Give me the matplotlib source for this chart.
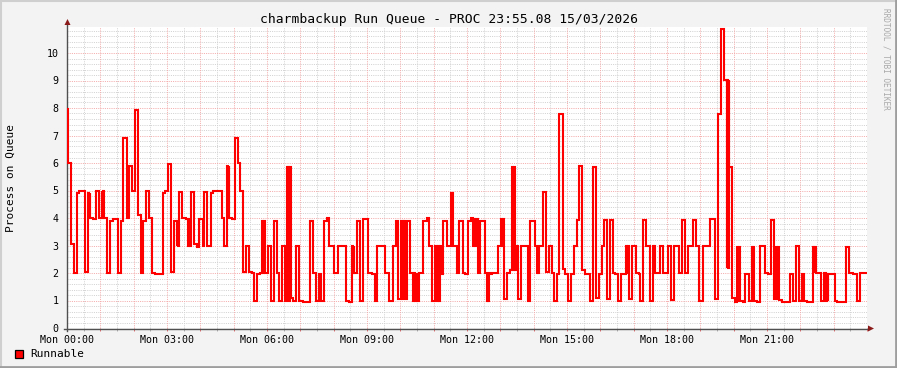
import matplotlib
matplotlib.use("Agg")
import matplotlib.pyplot as plt
from matplotlib.lines import Line2D
from matplotlib.patches import Rectangle, Polygon

# ---------------- data ----------------
title = "charmbackup Run Queue - PROC 23:55.08 15/03/2026"
y_label = "Process on Queue"
legend_label = "Runnable"
watermark = "RRDTOOL / TOBI OETIKER"
x_tick_hours = [0, 3, 6, 9, 12, 15, 18, 21]
x_tick_labels = ["Mon 00:00", "Mon 03:00", "Mon 06:00", "Mon 09:00",
                 "Mon 12:00", "Mon 15:00", "Mon 18:00", "Mon 21:00"]
y_ticks = [0, 1, 2, 3, 4, 5, 6, 7, 8, 9, 10]

# step start times (hours since Mon 00:00) and run-queue values
t_hours = [
    0.00, 0.03, 0.13, 0.22, 0.29, 0.35, 0.54, 0.63, 0.655, 0.675, 0.695, 0.78, 0.86, 0.96,
    1.04, 1.06, 1.08, 1.10, 1.19, 1.29, 1.39, 1.54, 1.62, 1.69, 1.79, 1.815, 1.84, 1.865,
    1.94, 2.04, 2.14, 2.21, 2.29, 2.37, 2.47, 2.56, 2.64, 2.89, 2.95, 3.02, 3.12, 3.22,
    3.29, 3.31, 3.33, 3.36, 3.46, 3.56, 3.64, 3.665, 3.69, 3.71, 3.81, 3.89, 3.97, 4.07,
    4.11, 4.19, 4.31, 4.37, 4.64, 4.72, 4.81, 4.835, 4.855, 4.87, 4.94, 5.04, 5.14, 5.20,
    5.29, 5.37, 5.47, 5.54, 5.61, 5.69, 5.79, 5.86, 5.885, 5.91, 5.94, 6.04, 6.13, 6.20,
    6.30, 6.37, 6.44, 6.54, 6.59, 6.615, 6.64, 6.665, 6.69, 6.71, 6.77, 6.88, 6.97, 7.07,
    7.29, 7.39, 7.48, 7.55, 7.63, 7.72, 7.79, 7.87, 8.00, 8.13, 8.38, 8.47, 8.55, 8.575,
    8.60, 8.62, 8.69, 8.78, 8.89, 9.04, 9.14, 9.23, 9.30, 9.54, 9.67, 9.77, 9.87, 9.94,
    10.02, 10.045, 10.07, 10.095, 10.12, 10.14, 10.19, 10.29, 10.39, 10.415, 10.44, 10.46,
    10.49, 10.57, 10.69, 10.79, 10.87, 10.94, 11.04, 11.11, 11.135, 11.16, 11.185, 11.21,
    11.29, 11.39, 11.51, 11.535, 11.56, 11.585, 11.70, 11.77, 11.87, 11.94, 12.02, 12.12,
    12.19, 12.215, 12.24, 12.265, 12.32, 12.39, 12.54, 12.59, 12.615, 12.64, 12.665, 12.69,
    12.76, 12.94, 13.02, 13.045, 13.07, 13.095, 13.12, 13.20, 13.29, 13.36, 13.385, 13.41,
    13.435, 13.46, 13.54, 13.62, 13.82, 13.89, 14.04, 14.09, 14.115, 14.14, 14.165, 14.27,
    14.37, 14.47, 14.55, 14.61, 14.69, 14.77, 14.87, 14.95, 15.04, 15.11, 15.22, 15.29,
    15.36, 15.44, 15.53, 15.69, 15.77, 15.87, 15.96, 16.05, 16.10, 16.20, 16.28, 16.37,
    16.44, 16.54, 16.62, 16.77, 16.795, 16.82, 16.87, 16.96, 17.06, 17.15, 17.20, 17.28,
    17.38, 17.47, 17.50, 17.57, 17.595, 17.62, 17.64, 17.79, 17.87, 18.03, 18.12, 18.21,
    18.37, 18.45, 18.54, 18.64, 18.78, 18.86, 18.95, 19.07, 19.29, 19.43, 19.53, 19.63,
    19.72, 19.79, 19.81, 19.83, 19.85, 19.87, 19.96, 20.03, 20.10, 20.125, 20.15, 20.175,
    20.27, 20.35, 20.45, 20.54, 20.565, 20.59, 20.62, 20.69, 20.79, 20.94, 21.04, 21.11,
    21.20, 21.27, 21.295, 21.32, 21.345, 21.37, 21.44, 21.69, 21.78, 21.87, 21.97, 22.04,
    22.10, 22.20, 22.37, 22.395, 22.42, 22.47, 22.62, 22.70, 22.76, 22.79, 22.815, 22.84,
    23.04, 23.11, 23.37, 23.47, 23.58, 23.71, 23.80,
]
runnable = [
    7.95, 6.0, 3.05, 2.0, 4.9, 4.97, 2.03, 4.9, 4.0, 4.9, 4.0, 3.95, 5.0, 4.0,
    5.0, 4.0, 5.0, 4.0, 2.0, 3.9, 3.96, 2.0, 3.9, 6.9, 4.0, 5.9, 4.0, 5.9,
    5.0, 7.93, 4.1, 2.0, 3.9, 5.0, 4.0, 2.0, 1.97, 4.9, 5.0, 5.95, 2.05, 3.9,
    3.0, 3.9, 3.0, 4.95, 4.0, 3.95, 3.0, 3.95, 3.0, 4.95, 3.05, 2.95, 3.95, 3.0,
    4.95, 3.0, 4.9, 5.0, 4.0, 3.0, 5.9, 4.0, 5.9, 4.0, 3.95, 6.9, 6.0, 5.0,
    2.05, 3.0, 2.05, 2.0, 1.0, 1.95, 2.0, 3.9, 2.0, 3.9, 2.0, 3.0, 1.0, 3.9,
    2.0, 1.0, 3.0, 1.0, 5.85, 1.0, 5.85, 1.0, 5.85, 1.1, 1.0, 3.0, 1.0, 0.95,
    3.9, 2.0, 1.0, 1.95, 1.0, 3.9, 4.0, 3.0, 2.0, 3.0, 1.0, 0.95, 3.0, 2.0,
    3.0, 2.0, 3.9, 1.0, 3.95, 2.0, 1.97, 1.0, 3.0, 2.0, 1.0, 3.0, 3.9, 1.05,
    3.9, 1.05, 3.9, 1.05, 3.9, 1.05, 3.9, 2.0, 1.0, 2.0, 1.0, 1.95,
    1.0, 2.0, 3.9, 4.0, 3.0, 1.0, 3.0, 1.0, 3.0, 1.0, 3.0, 1.95,
    3.9, 3.0, 4.92, 3.0, 4.92, 3.0, 2.0, 3.9, 2.0, 1.98, 3.9, 4.0,
    3.0, 3.95, 3.0, 3.95, 2.0, 3.9, 2.0, 1.0, 2.0, 1.0, 2.0, 1.97,
    2.0, 3.0, 3.95, 3.0, 3.95, 3.0, 1.05, 2.0, 2.1, 5.87, 2.1, 5.87,
    2.1, 3.0, 1.05, 3.0, 1.0, 3.9, 3.0, 2.0, 3.0, 2.0, 3.0, 4.93,
    2.05, 3.0, 2.0, 1.0, 1.96, 7.8, 2.15, 1.95, 1.0, 1.96, 3.0, 3.93,
    5.9, 2.1, 1.96, 1.0, 5.85, 1.1, 1.97, 3.0, 3.93, 1.05, 3.93, 2.0,
    1.97, 1.0, 1.97, 3.0, 2.0, 3.0, 1.05, 2.97, 2.0, 1.97, 1.0, 3.92,
    3.0, 2.98, 1.0, 3.0, 2.0, 3.0, 2.0, 3.0, 2.0, 3.0, 1.03, 3.0,
    2.0, 3.92, 2.0, 3.0, 3.93, 3.0, 1.0, 3.0, 3.95, 1.05, 7.78, 10.87,
    9.02, 2.17, 9.02, 2.17, 9.02, 5.87, 1.1, 0.96, 2.95, 1.0, 2.95, 1.0,
    0.96, 1.97, 1.0, 2.95, 1.0, 2.95, 1.0, 0.96, 3.0, 2.0, 1.97, 3.93,
    1.05, 2.95, 1.05, 2.95, 1.05, 1.03, 0.96, 1.97, 1.0, 2.97, 1.0, 1.97,
    1.0, 0.96, 2.95, 2.0, 2.95, 2.0, 1.0, 2.0, 1.0, 1.97, 1.0, 1.97,
    1.0, 0.96, 2.95, 2.0, 1.97, 1.0, 2.0,
]
t_end = 23.97

# ---------------- figure ----------------
W, H = 897, 368
FONT = "DejaVu Sans Mono"
plt.rcParams["font.family"] = [FONT, "DejaVu Sans"]

fig = plt.figure(figsize=(W / 100, H / 100), dpi=100, facecolor="#F3F3F3")

def px(x, y):
    return x / W, 1 - y / H

# outer frame (RRD shade)
fig.add_artist(Line2D([0, 1], [1 - 1 / H, 1 - 1 / H], color="#CFCFCF", lw=1.5))
fig.add_artist(Line2D([1 / W, 1 / W], [0, 1], color="#CFCFCF", lw=1.5))
fig.add_artist(Line2D([0, 1], [1.2 / H, 1.2 / H], color="#9E9E9E", lw=2))
fig.add_artist(Line2D([1 - 1.2 / W, 1 - 1.2 / W], [0, 1], color="#9E9E9E", lw=2))

top_px = 26.5
ax = fig.add_axes([67 / W, 1 - 328 / H, 800 / W, (328 - top_px) / H])
ax.set_facecolor("white")
ymax = 10.0 + (328 - 275 - top_px) / 27.5
ax.set_xlim(0, 24)
ax.set_ylim(0, ymax)
for s in ax.spines.values():
    s.set_visible(False)

dot = (0, (1, 1.2))
minor_col = "#D2D2D2"
major_col = "#F4ABAB"
gkw = dict(lw=0.72, ls=dot)
# minor grid
for i in range(1, 48, 2):
    ax.axvline(i * 0.5, color=minor_col, zorder=1, **gkw)
k = 1
while k * 0.2 < ymax:
    if k % 5 != 0:
        ax.axhline(k * 0.2, color=minor_col, zorder=1, **gkw)
    k += 1
# major grid
for h in range(1, 24):
    ax.axvline(h, color=major_col, zorder=1.5, **gkw)
for v in y_ticks[1:]:
    ax.axhline(v, color=major_col, zorder=1.5, **gkw)

# axes lines (drawn under the data line)
axis_col = "#505050"
arrow_col = "#8B1A1A"
ax.plot([-3 / 800, 801 / 800], [-0.5 / 301.5, -0.5 / 301.5], transform=ax.transAxes,
        color=axis_col, lw=1.0, clip_on=False, zorder=2.5)
ax.plot([0, 0], [-3 / 301.5, 1.005], transform=ax.transAxes,
        color=axis_col, lw=1.0, clip_on=False, zorder=2.5)

# data line
ts = list(t_hours) + [t_end]
vs = list(runnable) + [runnable[-1]]
ax.plot(ts, vs, drawstyle="steps-post", color="#FF0000", lw=1.5,
        solid_joinstyle="miter", zorder=3)

# ticks
ax.set_xticks(range(0, 25), minor=False)
ax.set_xticklabels([x_tick_labels[x_tick_hours.index(h)] if h in x_tick_hours else ""
                    for h in range(0, 25)], fontsize=7.2, family=FONT)
ax.set_xticks([i * 0.5 for i in range(1, 48, 2)], minor=True)
ax.tick_params(axis="x", which="major", length=2.5, width=0.72, color="#E07070",
               pad=2.2, labelcolor="#000000")
ax.tick_params(axis="x", which="minor", length=2.5, width=0.72, color="#B0B0B0")
ax.set_yticks(y_ticks)
ax.set_yticklabels([str(v) for v in y_ticks], fontsize=7.2, family=FONT)
ax.tick_params(axis="y", which="major", length=0, pad=6)

# arrow heads
fig.add_artist(Polygon([px(868, 325.5), px(868, 331.5), px(874, 328.5)],
                       closed=True, color=arrow_col, lw=0))
fig.add_artist(Polygon([px(64.5, 25), px(70.5, 25), px(67.5, 19)],
                       closed=True, color=arrow_col, lw=0))

# texts
fig.text(*px(448.5, 19), title, ha="center", va="center", fontsize=9.4, family=FONT)
fig.text(*px(11, 178), y_label, ha="center", va="center", rotation=90,
         fontsize=8, family=FONT)
fig.text(*px(886, 59), watermark, ha="center", va="center", rotation=270,
         fontsize=5.6, color="#A8A8A8", family=FONT)

fig.add_artist(Rectangle(px(15, 357.5), 8 / W, 8 / H, facecolor="#FF0000",
                         edgecolor="#000000", lw=0.9))
fig.text(*px(30, 354), legend_label, ha="left", va="center", fontsize=8, family=FONT)

fig.savefig("out.png", dpi=100, facecolor=fig.get_facecolor())
